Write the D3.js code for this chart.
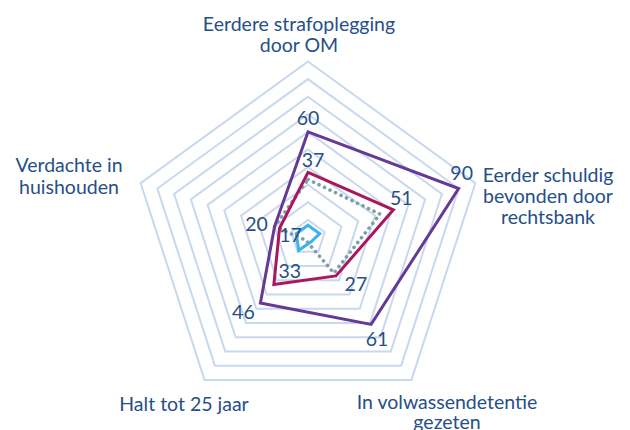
<!DOCTYPE html>
<html>
<head>
<meta charset="utf-8">
<script src="https://cdn.jsdelivr.net/npm/d3@7"></script>
<style>
  body { margin: 0; background: #fff; }
  svg text { font-family: Lato, "Open Sans", sans-serif; fill: #264f88; }
</style>
</head>
<body>
<svg width="630" height="430"></svg>
<script>
// axis order: clockwise from the top
const axes = [
  ["Eerdere strafoplegging", "door OM"],
  ["Eerder schuldig", "bevonden door", "rechtsbank"],
  ["In volwassendetentie", "gezeten"],
  ["Halt tot 25 jaar"],
  ["Verdachte in", "huishouden"]
];
const purpleValues = [60, 90, 61, 46, 20];
const redValues = [37, 51, 27, 33, 17];
const greyValues = [33, 43, 25, 2, 20];
const blueValues = [7, 7, 3, 9, 7];
const gridLevels = [10, 20, 30, 40, 50, 60, 70, 80, 90, 100];

const svg = d3.select("svg");
const cx = 308, cy = 237.5;
const r = d3.scaleLinear().domain([0, 100]).range([0, 176]);
const angle = d3.scaleLinear().domain([0, axes.length]).range([0, 2 * Math.PI]);

function pt(i, v) {
    const a = angle(i);
    return [cx + r(v) * Math.sin(a), cy - r(v) * Math.cos(a)];
}

const g = svg.append("g").attr("transform", `translate(${cx},${cy})`);

const radial = d3.lineRadial()
    .angle((d, i) => angle(i))
    .radius(d => r(d))
    .curve(d3.curveLinearClosed);

// grid
g.selectAll(".ring").data(gridLevels)
    .enter().append("path")
    .attr("class", "ring")
    .attr("d", lvl => radial(axes.map(() => lvl)))
    .attr("fill", "none")
    .attr("stroke", "#c9d8ee")
    .attr("stroke-width", 2);

const series = [
    { values: greyValues, color: "#7d9fa9", dash: "0.1,6", cap: "round" },
    { values: redValues, color: "#a9185f" },
    { values: purpleValues, color: "#653a97" },
    { values: blueValues, color: "#3cb5e6" }
];

g.selectAll(".serie").data(series)
    .enter().append("path")
    .attr("class", "serie")
    .attr("d", s => radial(s.values))
    .attr("fill", "none")
    .attr("stroke", s => s.color)
    .attr("stroke-width", s => s.dash ? 3.6 : 3)
    .attr("stroke-dasharray", s => s.dash || null)
    .attr("stroke-linecap", s => s.cap || "butt")
    .attr("stroke-linejoin", "miter");

// value labels, nudged from each vertex
const purpleNudge = [[0, -14], [3, -16], [6, 14], [-17, 9], [-18, -3]];
const redNudge = [[5, -13], [8, -12], [20, 8], [16, -14], [11, 6]];

function valueLabels(values, nudge) {
    svg.append("g").selectAll("text").data(values)
        .enter().append("text")
        .attr("x", (v, i) => pt(i, v)[0] + nudge[i][0])
        .attr("y", (v, i) => pt(i, v)[1] + nudge[i][1])
        .attr("text-anchor", "middle")
        .attr("dominant-baseline", "central")
        .attr("font-size", 19.5)
        .text(d => d);
}
valueLabels(purpleValues, purpleNudge);
valueLabels(redValues, redNudge);

// axis titles
const titlePos = [[299, 31], [548, 182], [447, 409], [184, 411], [69, 172]];
const lineGap = [20.5, 21, 19.5, 0, 22];
axes.forEach((lines, i) => {
    const t = svg.append("text")
        .attr("text-anchor", "middle")
        .attr("font-size", 19.5);
    lines.forEach((ln, j) => {
        t.append("tspan")
            .attr("x", titlePos[i][0])
            .attr("y", titlePos[i][1] + j * lineGap[i])
            .text(ln);
    });
});
</script>
</body>
</html>
